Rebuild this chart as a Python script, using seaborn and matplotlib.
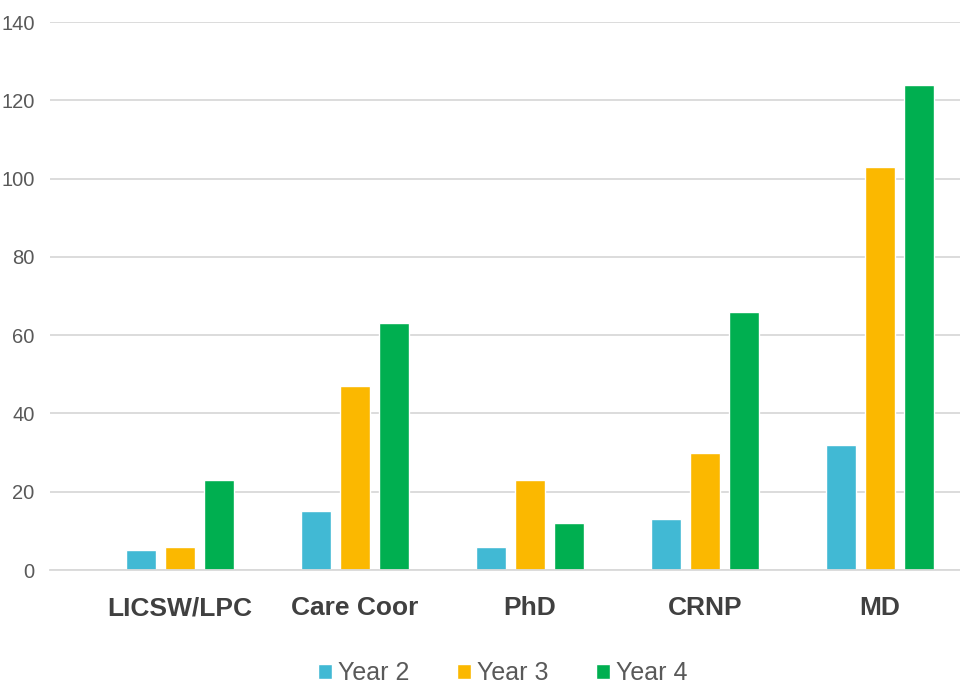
import matplotlib
matplotlib.use("Agg")
import matplotlib.pyplot as plt
import seaborn as sns
import pandas as pd

categories = ["LICSW/LPC", "Care Coor", "PhD", "CRNP", "MD"]
series_names = ["Year 2", "Year 3", "Year 4"]
year2 = [5, 15, 6, 13, 32]
year3 = [6, 47, 23, 30, 103]
year4 = [23, 63, 12, 66, 124]
y_ticks = [0, 20, 40, 60, 80, 100, 120, 140]
colors = ["#41B9D4", "#FBB800", "#00AF50"]

rows = []
for name, vals in zip(series_names, [year2, year3, year4]):
    for c, v in zip(categories, vals):
        rows.append({"cat": c, "series": name, "value": v})
df = pd.DataFrame(rows)

sns.set_theme(style="white")
plt.rcParams['font.family'] = ['Liberation Sans', 'DejaVu Sans']

fig = plt.figure(figsize=(9.6, 6.86), dpi=100)
ax = fig.add_axes([50/960, 1-570/686, 1-50/960, (570-22)/686])

sns.barplot(data=df, x="cat", y="value", hue="series", order=categories,
            hue_order=series_names, palette=colors, width=0.67, gap=0.23,
            saturation=1, ax=ax, legend=True)

ax.set_xlim(-0.743, 4.457)
ax.set_ylim(0, 140)
ax.set_yticks(y_ticks)
ax.set_yticklabels([str(t) for t in y_ticks], color="#595959", fontsize=14.5)
ax.tick_params(axis="y", length=0, pad=11)
ax.tick_params(axis="x", length=0, pad=19)
for lbl in ax.get_xticklabels():
    lbl.set_fontweight("bold")
    lbl.set_fontsize(19)
    lbl.set_color("#404040")
ax.set_xlabel("")
ax.set_ylabel("")
ax.grid(axis="y", color="#D9D9D9", linewidth=1.3)
ax.set_axisbelow(True)
for s in ["left", "right", "top"]:
    ax.spines[s].set_visible(False)
ax.spines["bottom"].set_color("#D9D9D9")
ax.spines["bottom"].set_linewidth(1.3)

handles, labels = ax.get_legend_handles_labels()
ax.legend_.remove()
leg = fig.legend(handles, labels, loc="center", bbox_to_anchor=(503/960, 1-673/686),
                 ncol=3, frameon=False, fontsize=18, handlelength=0.55, handleheight=0.55,
                 handletextpad=0.25, columnspacing=1.9)
for t in leg.get_texts():
    t.set_color("#595959")

fig.savefig("out.png", dpi=100)
